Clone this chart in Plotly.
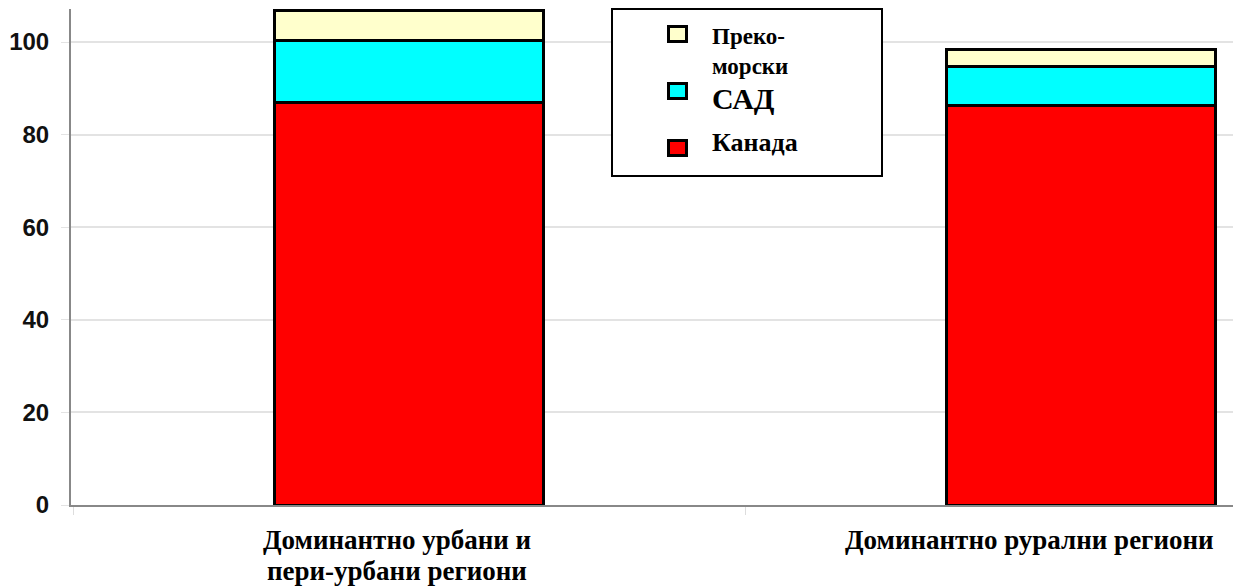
import plotly.graph_objects as go

categories = ["Доминантно урбани и пери-урбани региони", "Доминантно рурални региони"]
category_labels = ["Доминантно урбани и<br>пери-урбани региони", "Доминантно рурални региони"]
series_names = ["Канада", "САД", "Преко-<br>морски"]
canada = [87.0, 86.2]
usa = [13.4, 8.6]
overseas = [6.5, 3.5]
series_values = [canada, usa, overseas]
series_colors = ["#ff0000", "#00ffff", "#ffffcc"]
y_ticks = [0, 20, 40, 60, 80, 100]

W, H = 1241, 587
ML, MR, MT, MB = 63, 0, 1, 90
PW, PH = W - ML - MR, H - MT - MB
CAT_PX = 672          # pixels per category
C0 = 401              # pixel centre of first category
PX_PER_UNIT = 4.63

def px(x):
    return (x - ML) / PW

def py(y):
    return (H - MB - y) / PH

fig = go.Figure()
for name, vals, col in zip(series_names, series_values, series_colors):
    fig.add_trace(go.Bar(
        x=categories, y=vals, name=name, width=0.4,
        marker=dict(color=col, line=dict(color="black", width=3)),
        showlegend=False,
    ))

# x labels as annotations (one per line for tight line spacing)
label_shift = [-12, -52]
label_font = dict(family="Liberation Serif", size=27, color="black")
for cat, lab, sh in zip(categories, category_labels, label_shift):
    for k, line in enumerate(lab.split("<br>")):
        fig.add_annotation(x=cat, y=0, xref="x", yref="paper", yanchor="middle",
                           yshift=-35 - 31 * k, xshift=sh, text="<b>%s</b>" % line,
                           showarrow=False, font=label_font, align="center")

# custom legend
shapes = [dict(type="rect", xref="paper", yref="paper",
               x0=px(604), x1=px(874), y0=py(168), y1=py(1),
               line=dict(color="black", width=2), fillcolor="white", layer="above")]
legend_order = [2, 1, 0]
marker_y = [(18.5, 33.5), (75.5, 90.5), (132.5, 147.5)]
text_y = [43, 91, 134]
text_sizes = [23, 30, 26]
for (i, (y0, y1), ty, fs) in zip(legend_order, marker_y, text_y, text_sizes):
    shapes.append(dict(type="rect", xref="paper", yref="paper",
                       x0=px(660.5), x1=px(678.5), y0=py(y1), y1=py(y0),
                       line=dict(color="black", width=3), fillcolor=series_colors[i], layer="above"))
    fig.add_annotation(x=px(702), y=py(ty), xref="paper", yref="paper",
                       xanchor="left", yanchor="middle", showarrow=False, align="left",
                       text="<b>%s</b>" % series_names[i],
                       font=dict(family="Liberation Serif", size=fs, color="black"))

fig.update_layout(
    width=W, height=H,
    margin=dict(l=ML, r=MR, t=MT, b=MB),
    paper_bgcolor="white", plot_bgcolor="white",
    barmode="stack",
    shapes=shapes,
    showlegend=False,
    xaxis=dict(range=[-(C0 - ML) / CAT_PX, (W - C0) / CAT_PX],
               showticklabels=False, showgrid=False,
               ticks="outside", tickson="boundaries", ticklen=8, tickcolor="#dddddd",
               showline=True, linecolor="#888888", linewidth=2),
    yaxis=dict(range=[0, PH / PX_PER_UNIT], tickvals=y_ticks,
               showgrid=True, gridcolor="#e3e3e3", gridwidth=1.5,
               ticks="outside", ticklen=8, tickcolor="#e3e3e3",
               showline=True, linecolor="#888888", linewidth=2,
               zeroline=False, ticklabelstandoff=7,
               tickfont=dict(family="Liberation Sans", size=24, color="#111111", weight="bold")),
)

fig.write_html("out.html")
